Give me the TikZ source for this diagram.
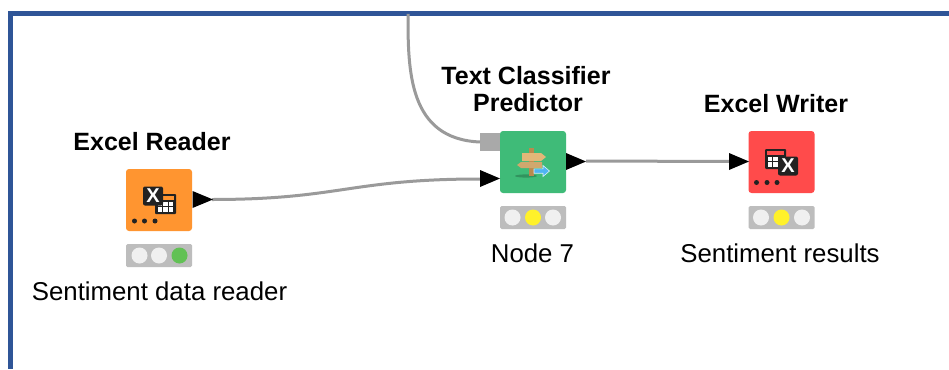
\documentclass[tikz,border=0pt]{standalone}
\usepackage{fontspec}
\setmainfont{Liberation Sans}
\definecolor{frameblue}{HTML}{2F5597}
\definecolor{kor}{HTML}{FF9530}
\definecolor{kgr}{HTML}{3FBB78}
\definecolor{kre}{HTML}{FF4B4B}
\definecolor{tray}{HTML}{BDBDBD}
\definecolor{lamp}{HTML}{F0F0F0}
\definecolor{lgreen}{HTML}{62C155}
\definecolor{lyellow}{HTML}{FFF12A}
\definecolor{wire}{HTML}{9A9A9A}
\definecolor{inkk}{HTML}{222222}
\definecolor{wood}{HTML}{E2B778}
\definecolor{woodd}{HTML}{B98A4E}
\definecolor{arrowb}{HTML}{4FB4F2}
\tikzset{
  x=1pt,y=-1pt,
  kbox/.style={minimum width=66pt,minimum height=62pt,rounded corners=3pt,inner sep=0pt,outer sep=0pt},
  ktray/.style={fill=tray,minimum width=66pt,minimum height=23pt,rounded corners=1.5pt,inner sep=0pt,outer sep=0pt},
  klamp/.style={circle,minimum size=16pt,inner sep=0pt,fill=lamp},
  porttri/.style={fill=black,draw=none},
  wireline/.style={draw=wire,line width=3pt},
  title/.style={font=\fontsize{25}{27}\selectfont\bfseries,align=center,text=black},
  caption/.style={font=\fontsize{25.8}{28}\selectfont,text=black},
  dots/.style={fill=inkk,circle,minimum size=5pt,inner sep=0pt},
  iconx/.style={font=\fontsize{20}{20}\selectfont\bfseries,text=white,inner sep=0pt}
}
\newcommand{\cellgrid}[3]{% top-left x, y, header colour
  \fill[inkk,rounded corners=1pt] (#1,#2) rectangle ++(21,20);
  \fill[#3] (#1+2,#2+2) rectangle ++(17,3.5);
  \foreach \cx in {0,1,2}\foreach \cy in {0,1}
    \fill[white] (#1+2.5+\cx*5.6,#2+7.5+\cy*5.5) rectangle ++(4.6,4.6);
}
\begin{document}
\begin{tikzpicture}
\useasboundingbox (0,0) rectangle (949,369);
\fill[white] (0,0) rectangle (949,369);
\draw[frameblue,line width=5pt] (949,13.5) -- (10.5,13.5) -- (10.5,369);

% wires (below boxes)
\coordinate (top) at (408,14);
\node[kbox,fill=kor] (reader) at (159,200) {};
\node[kbox,fill=kgr] (pred) at (533,162) {};
\node[kbox,fill=kre] (writer) at (781.5,162) {};

% ports
\node[fill=wire!85,minimum width=20pt,minimum height=18pt,inner sep=0pt,outer sep=0pt,anchor=east] (mport) at (pred.west|-0,142) {};
\coordinate (rout) at (212,199.5);
\coordinate (pin) at (480,179);
\coordinate (pout) at (586,161);
\coordinate (win) at (730,161.5);
\draw[wireline] (top) .. controls (408,70) and (408,139) .. (mport.west);
\draw[wireline] (rout) .. controls (340,199.5) and (350,179) .. (pin);
\draw[wireline] (pout) -- (win);
\fill[porttri] (192.5,191) -- (213,199.5) -- (192.5,208) -- cycle;
\fill[porttri] (480,170) -- (500,178.5) -- (480,187) -- cycle;
\fill[porttri] (566,153) -- (586,161.5) -- (566,170) -- cycle;
\fill[porttri] (729,153) -- (749,161.5) -- (729,170) -- cycle;

% reader icon
\cellgrid{155}{194}{kor}
\node[fill=inkk,rounded corners=2pt,minimum width=20pt,minimum height=19pt,inner sep=0pt] (rx) at (153,196) {};
\node[iconx] at (rx.center) {X};
\foreach \i/\dx in {a/134.5,b/144.5,c/155}
  \node[dots] (rd\i) at (\dx,221) {};

% writer icon
\cellgrid{765}{149}{kre}
\node[fill=inkk,rounded corners=2pt,minimum width=20pt,minimum height=19pt,inner sep=0pt] (wx) at (788,166) {};
\node[iconx] at (wx.center) {X};
\foreach \i/\dx in {a/756.5,b/767,c/777}
  \node[dots] (wd\i) at (\dx,182.5) {};

% predictor icon: signpost
\fill[black!60!kgr,opacity=.35] (526,176) ellipse (11 and 1.6);
\fill[woodd] (529,148) rectangle (533.5,176);
\fill[wood] (522,153) -- (541,153) -- (546,157) -- (541,161) -- (522,161) -- cycle;
\fill[wood!92!black] (521,162) -- (542,162) -- (542,168) -- (521,168) -- (517,165) -- cycle;
\filldraw[fill=arrowb,draw=white!80!arrowb,line width=.6pt] (534,168.8) -- (543,168.8) -- (543,165.5) -- (549.5,171) -- (543,176.5) -- (543,173.2) -- (534,173.2) -- cycle;

% traffic lights
\node[ktray] (t1) at (159,255.5) {};
\node[klamp] at (139.5,255.5) {};
\node[klamp] at (159,255.5) {};
\node[klamp,fill=lgreen] at (179.5,255.5) {};
\node[ktray] (t2) at (533,217.5) {};
\node[klamp] at (512.5,217.5) {};
\node[klamp,fill=lyellow] at (533,217.5) {};
\node[klamp] at (553,217.5) {};
\node[ktray] (t3) at (781.5,217.5) {};
\node[klamp] at (761,217.5) {};
\node[klamp,fill=lyellow] at (781.5,217.5) {};
\node[klamp] at (802,217.5) {};

% texts
\node[title] (n1) at (152,142) {Excel Reader};
\node[title] (n2) at (526,89) {Text Classifier\\\hspace*{4pt}Predictor};
\node[title] (n3) at (776,104) {Excel Writer};
\node[caption] (c1) at (159.5,291) {Sentiment data reader};
\node[caption] (c2) at (532.5,253) {Node 7};
\node[caption] (c3) at (780,253) {Sentiment results};
\end{tikzpicture}
\end{document}
